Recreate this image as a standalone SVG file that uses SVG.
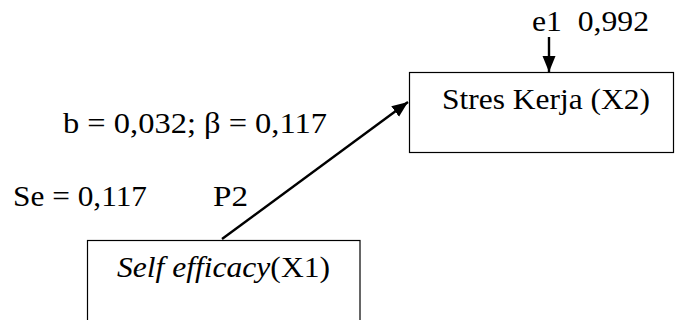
<svg xmlns="http://www.w3.org/2000/svg" width="675" height="320" viewBox="0 0 675 320">
<style>
  .t { font-family: 'Liberation Serif', 'Times New Roman', serif; font-size: 29px; fill: #000; }
  .box { fill: #fff; stroke: #000; stroke-width: 1.2; }
  .conn { stroke: #000; stroke-width: 2.4; fill: none; }
</style>
<defs>
  <marker id="ah" markerUnits="userSpaceOnUse" markerWidth="18" markerHeight="14" refX="16" refY="6.5" orient="auto">
    <polygon points="0,0 16,6.5 0,13" fill="#000"/>
  </marker>
</defs>
<rect width="675" height="320" fill="#fff"/>
<g id="node-x2">
  <rect class="box" x="409.5" y="72.5" width="264" height="80"/>
  <text class="t" x="442" y="109" textLength="208" lengthAdjust="spacingAndGlyphs">Stres Kerja (X2)</text>
</g>
<g id="node-x1">
  <rect class="box" x="87.5" y="240.5" width="272.5" height="90"/>
  <text class="t" x="117" y="277" textLength="213" lengthAdjust="spacingAndGlyphs"><tspan font-style="italic">Self efficacy</tspan>(X1)</text>
</g>
<g id="node-e1">
  <text class="t" x="532" y="31" textLength="117" lengthAdjust="spacingAndGlyphs" xml:space="preserve">e1  0,992</text>
</g>
<g id="labels">
  <text class="t" x="63" y="133" textLength="264" lengthAdjust="spacingAndGlyphs">b = 0,032; β = 0,117</text>
  <text class="t" x="13" y="206" textLength="134" lengthAdjust="spacingAndGlyphs">Se = 0,117</text>
  <text class="t" x="213" y="206" textLength="35" lengthAdjust="spacingAndGlyphs">P2</text>
</g>
<g id="connectors">
  <line class="conn" x1="222" y1="239" x2="408" y2="102" marker-end="url(#ah)"/>
  <line class="conn" x1="549" y1="37" x2="549" y2="72" stroke-width="2" marker-end="url(#ah)"/>
</g>
</svg>
